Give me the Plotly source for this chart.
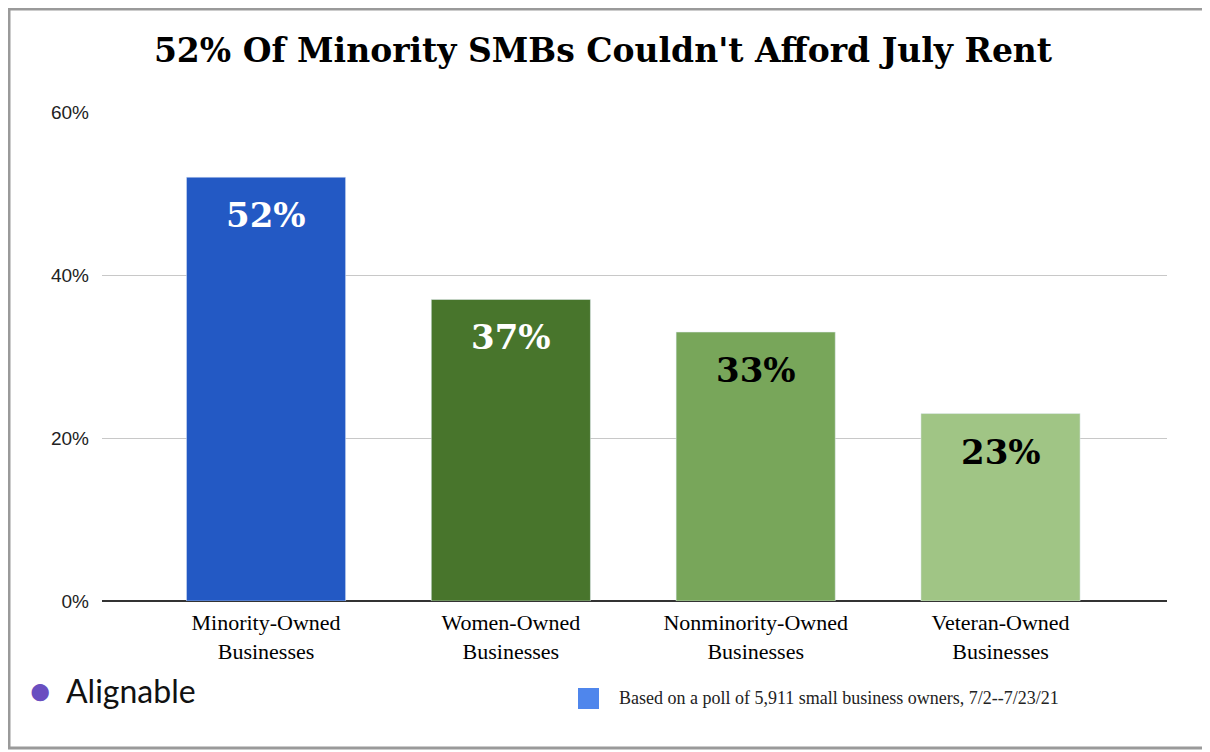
import plotly.graph_objects as go

categories = ["Minority-Owned<br>Businesses", "Women-Owned<br>Businesses",
              "Nonminority-Owned<br>Businesses", "Veteran-Owned<br>Businesses"]
values = [52, 37, 33, 23]
labels = ["52%", "37%", "33%", "23%"]
colors = ["#2359c4", "#48752c", "#78a65a", "#a0c585"]
label_colors = ["white", "white", "black", "black"]
yticks = [0, 20, 40, 60]

OFF = 8  # page body margin
W, H = 1210 - OFF, 752 - OFF
L, R, T, B = 102 - OFF, 43, 112 - OFF, 151
pw, ph = W - L - R, H - T - B
def px(x): return (x - OFF - L) / pw
def py(y): return (H - B - (y - OFF)) / ph

fig = go.Figure(go.Bar(
    x=categories, y=values, marker_color=colors,
    width=0.65, showlegend=False, hoverinfo="skip",
))
for c, v, t, col in zip(categories, values, labels, label_colors):
    fig.add_annotation(x=c, y=v, yshift=-38, text=f"<b>{t}</b>", showarrow=False,
                       yanchor="middle",
                       font=dict(family="DejaVu Serif", size=34, color=col))
fig.update_layout(
    width=W, height=H, margin=dict(l=L, r=R, t=T, b=B),
    paper_bgcolor="white", plot_bgcolor="white",
    title=dict(text="<b>52% Of Minority SMBs Couldn't Afford July Rent</b>",
               x=(603 - OFF) / W, xref="container", xanchor="center",
               y=1 - (50 - OFF) / H, yanchor="middle",
               font=dict(family="DejaVu Serif", size=33, color="black")),
    yaxis=dict(range=[0, 60], tickvals=yticks, ticktext=[f"{v}%" for v in yticks],
               gridcolor="#c8c8c8", gridwidth=1, zeroline=True, zerolinecolor="#333",
               zerolinewidth=1.5, ticks="", ticklabelstandoff=12,
               tickfont=dict(family="Liberation Sans", size=19, color="#222")),
    xaxis=dict(range=[-0.67, 3.68], tickfont=dict(family="Liberation Serif", size=22, color="black"),
               ticks="", showline=False, ticklabelstandoff=6),
)
fig.add_shape(type="rect", xref="paper", yref="paper",
              x0=px(OFF + 1), x1=px(1205), y0=py(OFF + 1), y1=py(748),
              line=dict(color="#9a9a9a", width=3), fillcolor="rgba(0,0,0,0)", layer="below")
fig.add_shape(type="rect", xref="paper", yref="paper",
              x0=px(578), x1=px(599), y0=py(688), y1=py(709),
              line=dict(width=0), fillcolor="#4f86ec")
fig.add_annotation(xref="paper", yref="paper", x=px(617), y=py(698), xanchor="left",
                   yanchor="middle", showarrow=False,
                   text="Based on a poll of 5,911 small business owners, 7/2--7/23/21",
                   font=dict(family="Liberation Serif", size=18, color="#222"))
fig.add_annotation(xref="paper", yref="paper", x=px(40), y=py(688), showarrow=False,
                   xanchor="center", yanchor="middle", text="●",
                   font=dict(size=40, color="#6a4fc0"))
fig.add_annotation(xref="paper", yref="paper", x=px(64), y=py(690), xanchor="left",
                   yanchor="middle", showarrow=False, text="Alignable",
                   font=dict(family="Lato", size=32, color="#111"))
fig.write_html("out.html")
